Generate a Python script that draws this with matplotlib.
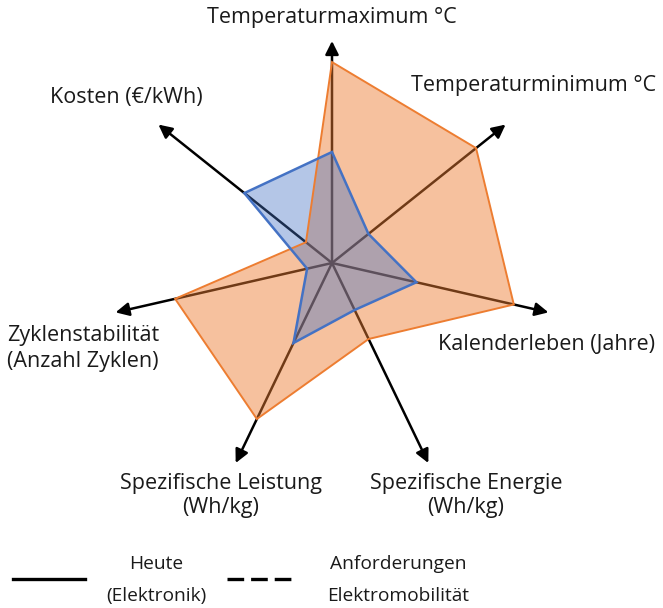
import numpy as np
from matplotlib import pyplot as plt
from matplotlib.lines import Line2D

plt.rcParams['font.family'] = ['Open Sans', 'DejaVu Sans']
plt.rcParams['lines.scale_dashes'] = False

# Achsen (im Uhrzeigersinn, oben beginnend)
kriterien = ["Temperaturmaximum °C", "Temperaturminimum °C", "Kalenderleben (Jahre)",
             "Spezifische Energie\n(Wh/kg)", "Spezifische Leistung\n(Wh/kg)",
             "Zyklenstabilität\n(Anzahl Zyklen)", "Kosten (€/kWh)"]
# Werte auf einer Skala 0..10 (Pfeilspitze = 10)
heute = [5.0, 2.1, 3.9, 2.35, 4.0, 1.15, 5.05]
anforderungen = [9.05, 8.3, 8.4, 3.8, 7.8, 7.25, 1.5]
achsen_laenge = 10

W, H = 663, 608
px = 22.2          # Pixel pro Einheit
cx, cy = 332, 263  # Mittelpunkt in Pixeln

fig = plt.figure(figsize=(W / 100, H / 100), dpi=100)
ax = fig.add_axes([0, 0, 1, 1])
ax.set_xlim(-cx / px, (W - cx) / px)
ax.set_ylim(-(H - cy) / px, cy / px)
ax.axis('off')

n = len(kriterien)
winkel = np.deg2rad(90 - np.arange(n) * 360 / n)

# Achsenpfeile
for w in winkel:
    ax.annotate("", xy=(achsen_laenge * np.cos(w), achsen_laenge * np.sin(w)), xytext=(0, 0),
                arrowprops=dict(arrowstyle='-|>', color='black', lw=1.8,
                                mutation_scale=20, shrinkA=0, shrinkB=0),
                zorder=1)

def polygon(werte, farbe, alpha, lw):
    werte = np.array(werte)
    x = werte * np.cos(winkel)
    y = werte * np.sin(winkel)
    ax.fill(x, y, facecolor=farbe, alpha=alpha, zorder=2)
    ax.fill(x, y, facecolor='none', edgecolor=farbe, lw=lw, zorder=3, joinstyle='miter')

polygon(anforderungen, '#ED7D31', 0.47, 1.4)
polygon(heute, '#4472C4', 0.4, 1.8)

def text_px(x, y, s, size=15.5, ha='center'):
    fig.text(x / W, 1 - y / H, s, fontsize=size, ha=ha, va='center', color='#1a1a1a')

# Beschriftungen
text_px(331.5, 17, kriterien[0])
text_px(534, 85, kriterien[1])
text_px(546.5, 345, kriterien[2])
text_px(466, 483, "Spezifische Energie")
text_px(466, 508, "(Wh/kg)")
text_px(221, 483, "Spezifische Leistung")
text_px(221, 508, "(Wh/kg)")
text_px(7, 335, "Zyklenstabilität", ha='left')
text_px(7, 362, "(Anzahl Zyklen)", ha='left')
text_px(126.5, 98, kriterien[6])

# Legende
y_leg = 1 - 579 / H
fig.add_artist(Line2D([13 / W, 85 / W], [y_leg, y_leg], color='black', lw=2.4))
fig.add_artist(Line2D([227 / W, 297 / W], [y_leg, y_leg], color='black', lw=2.4,
                      ls=(0, (12, 5, 12, 5, 12, 5, 1.5, 5))))
text_px(156, 564, "Heute", size=13.8)
text_px(156, 596, "(Elektronik)", size=13.8)
text_px(398, 564, "Anforderungen", size=13.8)
text_px(398, 596, "Elektromobilität", size=13.8)

plt.savefig('out.png', dpi=100)
